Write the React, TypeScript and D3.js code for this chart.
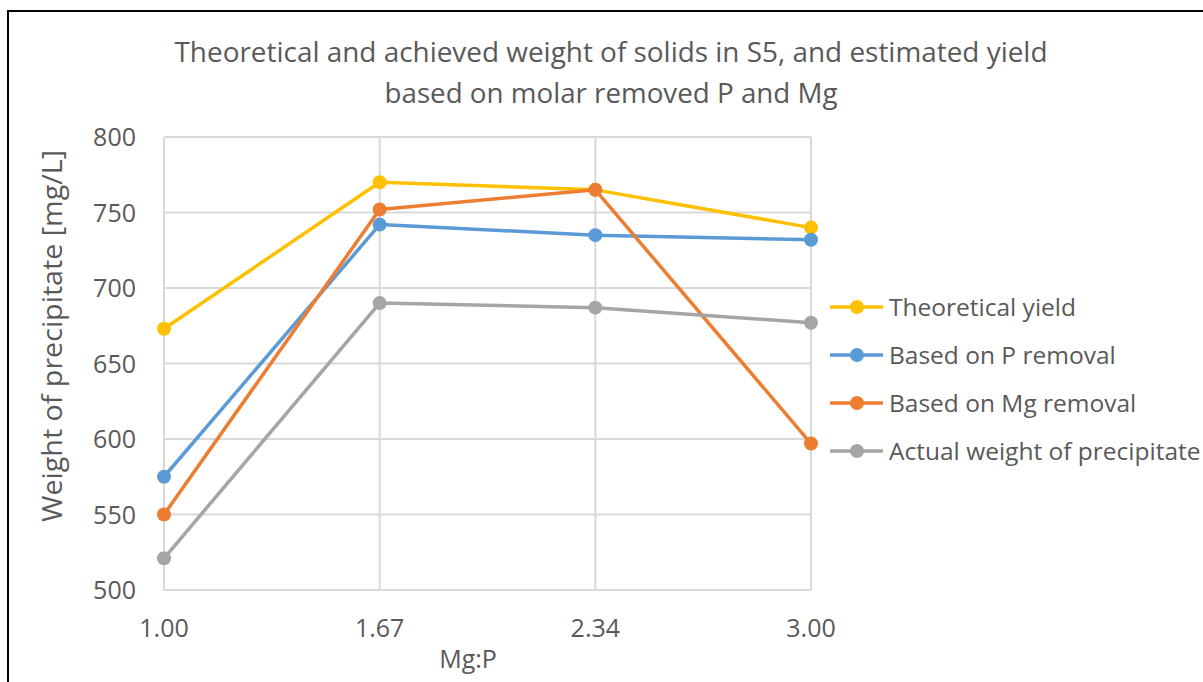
import React from "react";
import * as d3 from "d3";

const categories = ["1.00", "1.67", "2.34", "3.00"];
const theoretical = [673, 770, 765, 740];
const pRemoval = [575, 742, 735, 732];
const mgRemoval = [550, 752, 765, 597];
const actual = [521, 690, 687, 677];
const yTicks = [500, 550, 600, 650, 700, 750, 800];

const series = [
  { name: "Theoretical yield", values: theoretical, color: "#FFC000" },
  { name: "Based on P removal", values: pRemoval, color: "#5B9BD5" },
  { name: "Based on Mg removal", values: mgRemoval, color: "#ED7D31" },
  { name: "Actual weight of precipitate", values: actual, color: "#A5A5A5" },
];

const W = 1203;
const H = 682;
const FONT = "'Open Sans', 'Noto Sans', sans-serif";
const TEXT = "#595959";

export default function App() {
  const x = d3.scalePoint<string>().domain(categories).range([164, 811]);
  const y = d3.scaleLinear().domain([500, 800]).range([590, 137]);
  const line = d3
    .line<number>()
    .x((_, i) => x(categories[i]) as number)
    .y((d) => y(d));

  return (
    <svg
      width={W}
      height={H}
      style={{ position: "absolute", left: 0, top: 0, background: "#fff" }}
      fontFamily={FONT}
    >
      <rect x={0} y={0} width={W} height={H} fill="#fff" />
      {/* chart frame */}
      <rect x={8} y={11} width={W + 20} height={H + 20} fill="none" stroke="#000" strokeWidth={2} />

      {/* title */}
      <text x={611} y={62} textAnchor="middle" fontSize={27} fill={TEXT} textLength={873} lengthAdjust="spacingAndGlyphs">
        Theoretical and achieved weight of solids in S5, and estimated yield
      </text>
      <text x={611} y={103} textAnchor="middle" fontSize={27} fill={TEXT} textLength={453} lengthAdjust="spacingAndGlyphs">
        based on molar removed P and Mg
      </text>

      {/* horizontal gridlines */}
      {yTicks.map((t) => (
        <line key={"h" + t} x1={164} x2={811} y1={y(t)} y2={y(t)} stroke="#D9D9D9" strokeWidth={2} />
      ))}
      {/* vertical gridlines */}
      {categories.map((c) => (
        <line key={"v" + c} x1={x(c)} x2={x(c)} y1={y(800)} y2={y(500)} stroke="#D9D9D9" strokeWidth={2} />
      ))}

      {/* y tick labels */}
      {yTicks.map((t) => (
        <text key={"yl" + t} x={136} y={y(t) + 9} textAnchor="end" fontSize={25} fill={TEXT}>
          {t}
        </text>
      ))}
      {/* x tick labels */}
      {categories.map((c) => (
        <text key={"xl" + c} x={x(c)} y={637} textAnchor="middle" fontSize={25} fill={TEXT}>
          {c}
        </text>
      ))}

      {/* axis titles */}
      <text x={468} y={668} textAnchor="middle" fontSize={25} fill={TEXT}>
        Mg:P
      </text>
      <text
        transform="translate(62, 336) rotate(-90)"
        textAnchor="middle"
        fontSize={28}
        fill={TEXT}
        textLength={372}
        lengthAdjust="spacingAndGlyphs"
      >
        Weight of precipitate [mg/L]
      </text>

      {/* series */}
      {series.map((s) => (
        <g key={s.name}>
          <path d={line(s.values) || ""} fill="none" stroke={s.color} strokeWidth={3.5} strokeLinejoin="round" />
          {s.values.map((v, i) => (
            <circle key={i} cx={x(categories[i])} cy={y(v)} r={7} fill={s.color} />
          ))}
        </g>
      ))}

      {/* legend */}
      {series.map((s, i) => {
        const ly = 307 + i * 48;
        return (
          <g key={"lg" + s.name}>
            <line x1={830} x2={883} y1={ly} y2={ly} stroke={s.color} strokeWidth={3.5} />
            <circle cx={857} cy={ly} r={7} fill={s.color} />
            <text x={889} y={ly + 9} fontSize={24.5} fill={TEXT}>
              {s.name}
            </text>
          </g>
        );
      })}
    </svg>
  );
}
